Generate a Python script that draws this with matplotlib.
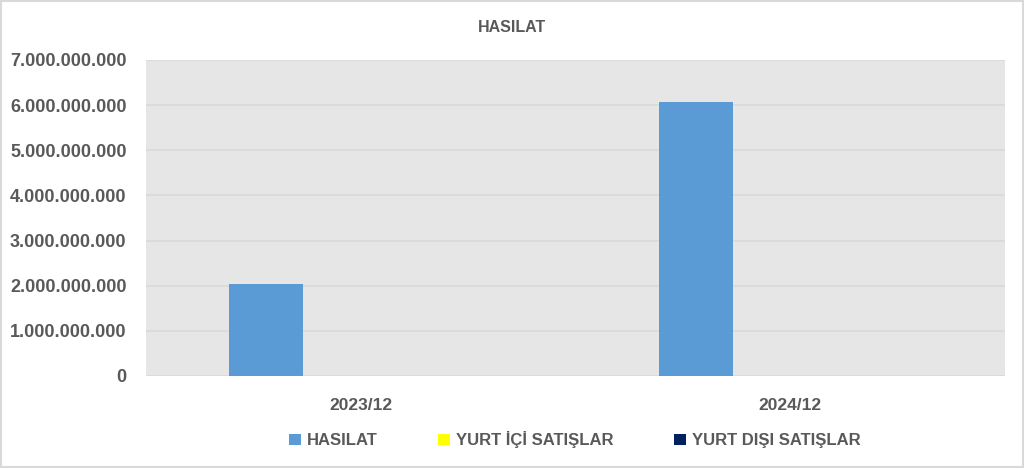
import matplotlib.pyplot as plt
from matplotlib.patches import Patch, Rectangle
from matplotlib.ticker import FuncFormatter, MultipleLocator
import numpy as np

# chart data
categories = ['2023/12', '2024/12']
series_names = ['HASILAT', 'YURT İÇİ SATIŞLAR', 'YURT DIŞI SATIŞLAR']
hasilat = [2040000000, 6080000000]
yurt_ici = [0, 0]
yurt_disi = [0, 0]
colors = ['#5b9bd5', '#ffff00', '#002060']

plt.rcParams['font.family'] = ['Liberation Sans', 'DejaVu Sans']
txt = '#595959'

fig = plt.figure(figsize=(10.24, 4.68), dpi=100)
ax = fig.add_axes([0.1426, 0.1966, 0.8389, 0.6752])
ax.set_facecolor('#e6e6e6')

x = np.arange(len(categories))
w = 0.172
for i, (vals, c) in enumerate(zip([hasilat, yurt_ici, yurt_disi], colors)):
    ax.bar(x - 0.22 + i * w, vals, width=w, color=c, zorder=3)

ax.set_xlim(-0.5, 1.5)
ax.set_ylim(0, 7000000000)
ax.yaxis.set_major_locator(MultipleLocator(1000000000))
ax.yaxis.set_major_formatter(FuncFormatter(lambda v, p: f'{v:,.0f}'.replace(',', '.')))
ax.set_xticks(x)
ax.set_xticklabels(categories)
ax.grid(axis='y', color='#d9d9d9', linewidth=1.2, zorder=0)
ax.set_axisbelow(True)
for s in ax.spines.values():
    s.set_visible(False)
ax.tick_params(axis='both', length=0, labelcolor=txt)
ax.tick_params(axis='y', pad=14, labelsize=13)
ax.tick_params(axis='x', pad=16, labelsize=12.5)
for lab in ax.get_xticklabels() + ax.get_yticklabels():
    lab.set_fontweight('bold')

fig.text(0.5, 0.942, 'HASILAT', ha='center', va='center', fontsize=11.5,
         fontweight='bold', color=txt)

handles = [Patch(facecolor=c, edgecolor='none') for c in colors]
leg = fig.legend(handles, series_names, loc='center', bbox_to_anchor=(0.5615, 0.06),
                 ncol=3, frameon=False, handlelength=0.7, handleheight=0.7,
                 handletextpad=0.4, columnspacing=3.6, prop={'size': 12, 'weight': 'bold'})
for t in leg.get_texts():
    t.set_color(txt)

fig.patches.append(Rectangle((0.001, 0.002), 0.998, 0.996, transform=fig.transFigure,
                             fill=False, edgecolor='#d9d9d9', linewidth=1.5))

plt.savefig('out.png', dpi=100)
